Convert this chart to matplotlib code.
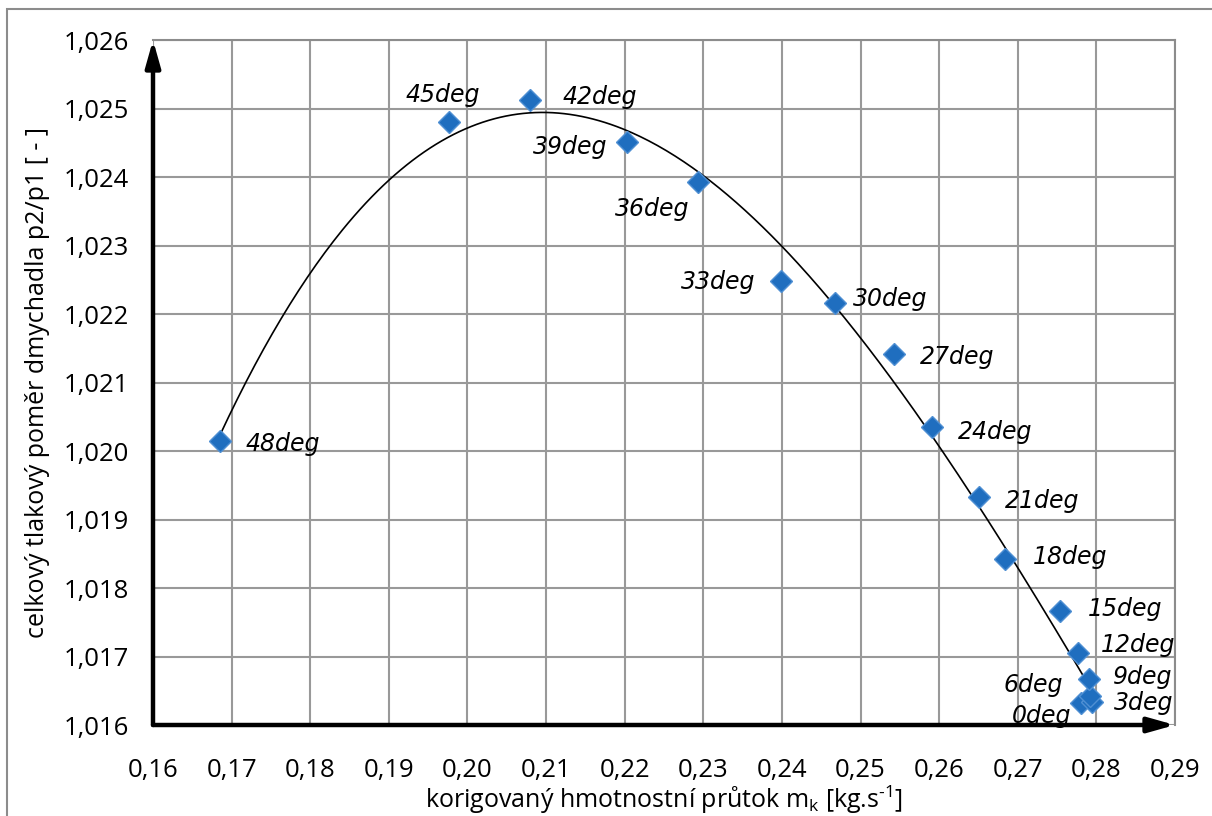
import numpy as np
import matplotlib
matplotlib.use("Agg")
import matplotlib.pyplot as plt
from matplotlib.patches import Rectangle

plt.rcParams['font.family'] = ['Open Sans', 'DejaVu Sans']
plt.rcParams['mathtext.fontset'] = 'custom'
plt.rcParams['mathtext.rm'] = 'Open Sans'
plt.rcParams['mathtext.it'] = 'Open Sans:italic'

# data
labels = ['0deg', '3deg', '6deg', '9deg', '12deg', '15deg', '18deg', '21deg', '24deg',
          '27deg', '30deg', '33deg', '36deg', '39deg', '42deg', '45deg', '48deg']
mass_flow = [0.2781, 0.2795, 0.2792, 0.2791, 0.2776, 0.2754, 0.2684, 0.2651, 0.2591,
             0.2542, 0.2468, 0.2399, 0.2293, 0.2203, 0.2080, 0.1977, 0.1685]
press_ratio = [1.01632, 1.01634, 1.01642, 1.01667, 1.01705, 1.01766, 1.01842, 1.01933, 1.02035,
               1.02142, 1.02216, 1.02248, 1.02393, 1.02451, 1.02512, 1.02480, 1.02015]

# label offsets in pixels (dx, dy, ha)
offsets = {
    '0deg': (-10, -13, 'right'), '3deg': (21, -1, 'left'), '6deg': (-27, 11, 'right'),
    '9deg': (24, 2, 'left'), '12deg': (23, 8, 'left'), '15deg': (28, 2, 'left'),
    '18deg': (28, 2, 'left'), '21deg': (26, -4, 'left'), '24deg': (26, -5, 'left'),
    '27deg': (26, -3, 'left'), '30deg': (18, 4, 'left'), '33deg': (-26, -1, 'right'),
    '36deg': (-8, -27, 'right'), '39deg': (-20, -5, 'right'), '42deg': (32, 3, 'left'),
    '45deg': (-7, 27, 'center'), '48deg': (26, -3, 'left'),
}

fig = plt.figure(figsize=(12.12, 8.16), dpi=100)
fig.patches.append(Rectangle((7 / 1212, -0.1), 1.2, (816 - 9) / 816 + 0.1,
                             transform=fig.transFigure, fill=False,
                             edgecolor='#8c8c8c', lw=1.5))
ax = fig.add_axes([153 / 1212, 91 / 816, 1022 / 1212, 685 / 816])

x = np.array(mass_flow)
y = np.array(press_ratio)

# polynomial trendline (3rd order)
coef = np.polyfit(x, y, 3)
xs = np.linspace(x.min(), x.max(), 300)
ax.plot(xs, np.polyval(coef, xs), color='black', lw=1.2, zorder=3)

ax.plot(x, y, 'D', ms=11.5, color='#1f6ebf', mec='#4f8fd3', mew=1, zorder=4, linestyle='none')

for lab, xv, yv in zip(labels, mass_flow, press_ratio):
    dx, dy, ha = offsets[lab]
    ax.annotate(lab, (xv, yv), xytext=(dx, dy), textcoords='offset pixels',
                ha=ha, va='center', fontsize=17, style='italic',
                family='DejaVu Sans', zorder=5)

ax.set_xlim(0.16, 0.29)
ax.set_ylim(1.016, 1.026)
xt = np.arange(0.16, 0.2901, 0.01)
yt = np.arange(1.016, 1.02601, 0.001)
ax.set_xticks(xt)
ax.set_yticks(yt)
ax.set_xticklabels(['{:.2f}'.format(v).replace('.', ',') for v in xt], fontsize=18.5)
ax.set_yticklabels(['{:.3f}'.format(v).replace('.', ',') for v in yt], fontsize=18.5)
ax.tick_params(axis='x', length=0, pad=24)
ax.tick_params(axis='y', length=0, pad=17)
ax.grid(True, color='#999999', lw=1.5)
ax.set_axisbelow(True)

for s in ['top', 'right']:
    ax.spines[s].set_color('#8c8c8c')
    ax.spines[s].set_linewidth(1.5)
for s in ['left', 'bottom']:
    ax.spines[s].set_visible(False)

arrow = dict(arrowstyle='-|>,head_length=1.6,head_width=0.45', lw=3.2, color='black',
             shrinkA=0, shrinkB=0)
ax.annotate('', xy=(0, 1), xytext=(0, 0), xycoords='axes fraction', arrowprops=arrow,
            zorder=6, annotation_clip=False)
ax.annotate('', xy=(1, 0), xytext=(0, 0), xycoords='axes fraction', arrowprops=arrow,
            zorder=6, annotation_clip=False)

ax.set_xlabel(r'korigovaný hmotnostní průtok m$_\mathrm{k}$ [kg.s$^{\text{-}1}$]',
              fontsize=18, labelpad=0)
ax.set_ylabel('celkový tlakový poměr dmychadla p2/p1 [ - ]', fontsize=18, labelpad=10)

fig.savefig('out.png', dpi=100)
